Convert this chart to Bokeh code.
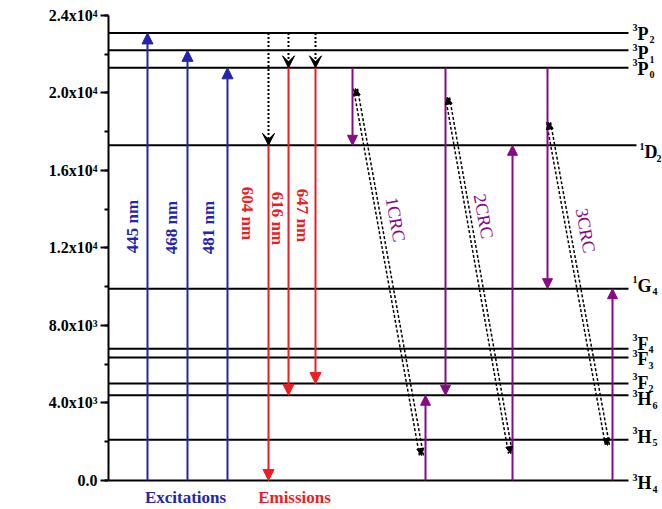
from math import pi

from bokeh.core.properties import value
from bokeh.embed import file_html
from bokeh.models import (Arrow, ColumnDataSource, FixedTicker, Label,
                          NormalHead, Range1d, VeeHead)
from bokeh.plotting import figure
from bokeh.resources import INLINE

# ---- Pr3+ energy levels (cm^-1) ----
level_spin = ["3", "3", "3", "1", "1", "3", "3", "3", "3", "3", "3"]
level_letter = ["P", "P", "P", "D", "G", "F", "F", "F", "H", "H", "H"]
level_j = ["2", "1", "0", "2", "4", "4", "3", "2", "6", "5", "4"]
level_energy = [23100, 22200, 21300, 17300, 9900, 6800, 6350, 5000, 4400, 2100, 0]
level_keys = [s + l + j for s, l, j in zip(level_spin, level_letter, level_j)]
E = dict(zip(level_keys, level_energy))

# ---- transitions ----
excitation_labels = ["445 nm", "468 nm", "481 nm"]
excitation_upper = ["3P2", "3P1", "3P0"]
ground = "3H4"

emission_labels = ["604 nm", "616 nm", "647 nm"]
emission_from = ["1D2", "3P0", "3P0"]
emission_to = ["3H4", "3H6", "3F2"]

relax_from = ["3P2", "3P2", "3P2"]
relax_to = ["1D2", "3P0", "3P0"]

crc_labels = ["1CRC", "2CRC", "3CRC"]
crc_donor_from = ["3P0", "3P0", "3P0"]
crc_donor_to = ["1D2", "3H6", "1G4"]
crc_acceptor_to = ["3H6", "1D2", "1G4"]

# ---- axis ticks ----
tick_values = [0, 4000, 8000, 12000, 16000, 20000, 24000]
tick_labels = ["0.0", "4.0x10\u00b3", "8.0x10\u00b3", "1.2x10\u2074",
               "1.6x10\u2074", "2.0x10\u2074", "2.4x10\u2074"]
minor_values = list(range(0, 24001, 2000))

# ---- layout (horizontal positions in canvas pixels) ----
exc_x = [147, 187, 227]
emi_x = [268, 288, 315]
donor_x = [352, 445, 547]
acceptor_x = [425, 512, 612]
line_end = [628, 628, 628, 636, 628, 628, 628, 628, 628, 628, 628]
crc_top = [(355, 20230), (447, 19780), (548, 18490)]
crc_bot = [(421, 1290), (510, 1390), (607, 1810)]

BLUE = "#2424ac"
RED = "#ee1d23"
PURPLE = "#850a85"
FONT = value("Liberation Serif")

p = figure(width=662, height=509, x_range=Range1d(108, 662),
           y_range=Range1d(-1497, 24774), output_backend="svg",
           toolbar_location=None, x_axis_location=None,
           min_border_left=108, min_border_right=0,
           min_border_top=0, min_border_bottom=0)
p.grid.visible = False
p.outline_line_color = None
p.background_fill_color = "white"
p.border_fill_color = "white"

ax = p.yaxis[0]
ax.ticker = FixedTicker(ticks=tick_values, minor_ticks=minor_values)
ax.major_label_overrides = {v: t for v, t in zip(tick_values, tick_labels)}
ax.bounds = (0, 24000)
ax.axis_line_width = 2
ax.major_tick_line_width = 2
ax.minor_tick_line_width = 2
ax.major_tick_in = 0
ax.major_tick_out = 8
ax.minor_tick_in = 0
ax.minor_tick_out = 4
ax.major_label_standoff = 3
ax.major_label_text_font = "Liberation Serif"
ax.major_label_text_font_style = "bold"
ax.major_label_text_font_size = "16px"
ax.major_label_text_color = "black"

p.add_layout(Label(x=108, y=9300, x_offset=-90, angle=pi / 2,
                   text="Energy Level (cm\u207b\u00b9)", text_align="center",
                   text_baseline="middle", text_font="Liberation Serif",
                   text_font_style="bold", text_font_size="17px"))

# ---- level lines ----
p.segment(x0=[108] * len(level_energy), x1=line_end, y0=level_energy,
          y1=level_energy, line_color="black", line_width=2)

# ---- level term labels ----
letter_dy = [1, 3, 1, 7, -3, -5, 2, -1, 4, -3, 3]
sup_x = [632, 632, 632, 639, 632, 632, 632, 632, 632, 632, 632]
let_x = [637, 637, 637, 644, 637, 637, 637, 637, 637, 637, 637]
sub_x = [649, 649, 649, 656, 652, 648, 648, 648, 652, 652, 652]
for i, en in enumerate(level_energy):
    p.text(x=[let_x[i]], y=[en], text=[level_letter[i]], y_offset=letter_dy[i],
           text_font=FONT, text_font_style="bold", text_font_size="18px",
           text_align="left", text_baseline="middle", text_color="black")
    p.text(x=[sup_x[i]], y=[en], text=[level_spin[i]], y_offset=letter_dy[i] - 6,
           text_font=FONT, text_font_style="bold", text_font_size="10px",
           text_align="left", text_baseline="middle", text_color="black")
    p.text(x=[sub_x[i]], y=[en], text=[level_j[i]], y_offset=letter_dy[i] + 6,
           text_font=FONT, text_font_style="bold", text_font_size="10px",
           text_align="left", text_baseline="middle", text_color="black")


def arrows(xs, y0, y1, color, size=10, dash="solid", head=None):
    src = ColumnDataSource(dict(x=xs, y0=y0, y1=y1))
    if head is None:
        head = NormalHead(size=size, fill_color=color, line_color=color)
    p.add_layout(Arrow(source=src, x_start="x", x_end="x", y_start="y0",
                       y_end="y1", line_color=color, line_width=2,
                       line_dash=dash, end=head))


# excitations
arrows(exc_x, [E[ground]] * 3, [E[k] for k in excitation_upper], BLUE, size=11)
# non-radiative feeding (dotted)
arrows(emi_x, [E[k] for k in relax_from], [E[k] for k in relax_to], "black",
       dash="2 2", head=VeeHead(size=12, fill_color="black", line_color="black"))
# emissions
arrows(emi_x, [E[k] for k in emission_from], [E[k] for k in emission_to], RED, size=11)
# cross relaxation pairs
arrows(donor_x, [E[k] for k in crc_donor_from], [E[k] for k in crc_donor_to], PURPLE)
arrows(acceptor_x, [E[ground]] * 3, [E[k] for k in crc_acceptor_to], PURPLE)

# energy-transfer double dashed links
for (xt, yt), (xb, yb) in zip(crc_top, crc_bot):
    for dx in (-2, 2):
        p.segment(x0=[xt + dx], y0=[yt], x1=[xb + dx], y1=[yb],
                  line_color="black", line_width=1.5, line_dash="3 2")
src = ColumnDataSource(dict(x0=[t[0] for t in crc_top], y0=[t[1] for t in crc_top],
                            x1=[b[0] for b in crc_bot], y1=[b[1] for b in crc_bot]))
p.add_layout(Arrow(source=src, x_start="x0", y_start="y0", x_end="x1", y_end="y1",
                   line_color=None,
                   start=NormalHead(size=7, fill_color="black", line_color="black"),
                   end=NormalHead(size=7, fill_color="black", line_color="black")))

# ---- texts ----
p.text(x=[132, 171, 208], y=[13110, 13060, 13060], text=excitation_labels,
       angle=pi / 2, text_font=FONT, text_font_style="bold", text_font_size="17px",
       text_align="center", text_baseline="middle", text_color=BLUE)
p.text(x=[247, 277, 302], y=[13780, 13520, 13680], text=emission_labels,
       angle=-pi / 2, text_font=FONT, text_font_style="bold", text_font_size="17px",
       text_align="center", text_baseline="middle", text_color=RED)
p.text(x=[395, 483, 585], y=[13470, 13630, 12900], text=crc_labels,
       angle=-1.39, text_font=FONT, text_font_size="18px",
       text_align="center", text_baseline="middle", text_color=PURPLE)
p.text(x=[185], y=[-880], text=["Excitations"], text_font=FONT,
       text_font_style="bold", text_font_size="17px", text_align="center",
       text_baseline="middle", text_color=BLUE)
p.text(x=[294], y=[-880], text=["Emissions"], text_font=FONT,
       text_font_style="bold", text_font_size="17px", text_align="center",
       text_baseline="middle", text_color=RED)

open("out.html", "w").write(file_html(p, INLINE))
